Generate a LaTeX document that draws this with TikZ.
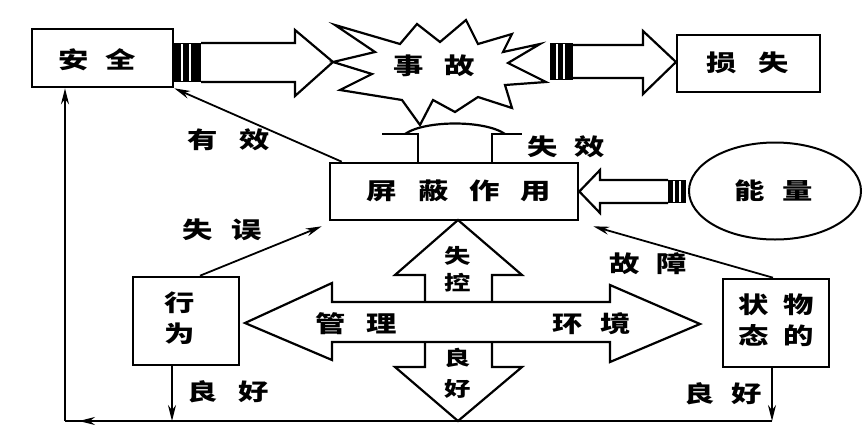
\documentclass[tikz,border=0pt]{standalone}
\usepackage{fontspec}
\newfontfamily\cjk{Noto Sans CJK SC}[FakeStretch=1.32]
\usetikzlibrary{arrows.meta,shapes.geometric,calc}
\newcommand\gapx[1]{\hspace{#1pt}}
\tikzset{
  zh/.style={font=\cjk\bfseries\fontsize{23}{31}\selectfont, inner sep=0pt, align=center},
  zhs/.style={font=\cjk\bfseries\fontsize{20}{31}\selectfont, inner sep=0pt, align=center},
  boxx/.style={draw, line width=2.6pt, rectangle, inner sep=0pt},
  shapeline/.style={line width=2.2pt, line join=miter},
  conn/.style={line width=1.8pt, -{Stealth[length=16pt,width=8pt]}},
  plain/.style={line width=2pt},
  bar/.style={fill=black},
}
\begin{document}
\begin{tikzpicture}[x=1pt,y=-1pt]
\useasboundingbox (0,0) rectangle (863,429);
\fill[white] (0,0) rectangle (863,429);

% boxes
\node[boxx, minimum width=141pt, minimum height=58pt] (safe) at (102.5,58) {};
\node[zh] (safet) at (97,60) {安\gapx{16}全};
\node[boxx, minimum width=143pt, minimum height=57pt] (loss) at (748.5,63.5) {};
\node[zh] (losst) at (748,63) {损\gapx{22}失};
\node[boxx, minimum width=248pt, minimum height=57pt] (shield) at (454,191.5) {};
\node[zh] (shieldt) at (459,191) {屏\gapx{21}蔽\gapx{21}作\gapx{21}用};
\node[draw, ellipse, line width=2pt, minimum width=172pt, minimum height=97pt, inner sep=0pt] (energy) at (775,191) {};
\node[zh] (energyt) at (774,191) {能\gapx{18}量};
\node[boxx, minimum width=106pt, minimum height=88pt] (xw) at (186,321) {};
\node[zh] (xwt) at (180,318) {行\\为};
\node[boxx, minimum width=106pt, minimum height=88pt] (wz) at (776,323) {};
\node[zh] (wzt) at (776,320) {状\gapx{15}物\\态\gapx{15}的};

% accident star
\draw[shapeline, fill=white] (335,25) -- (400,44) -- (417,24) -- (440,42) -- (466,20) -- (478,44)
  -- (512,34) -- (503,52) -- (540,44) -- (508,63) -- (546,82) -- (505,85) -- (512,108)
  -- (478,97) -- (455,112) -- (433,100) -- (420,125) -- (402,100) -- (340,90)
  -- (372,74) -- (333,62) -- (375,52) -- cycle;
\node[zh] (acc) at (434,66) {事\gapx{21}故};

% block arrow safe -> accident
\fill[bar] (safe.east |- 0,43) rectangle (201,82);
\draw[white, line width=1.3pt] (182,44) -- (182,81) (190,44) -- (190,81);
\draw[shapeline] (201,43) -- (295,43) -- (295,30) -- (333,62) -- (295,96) -- (295,82) -- (201,82);

% block arrow accident -> loss
\fill[bar] (550,43) rectangle (573,80);
\draw[white, line width=1.3pt] (557,44) -- (557,79) (564,44) -- (564,79);
\draw[shapeline] (573,45) -- (643,45) -- (643,31) -- (676,62) -- (643,94) -- (643,78) -- (573,78);

% block arrow energy -> shield
\fill[bar] (668,180) rectangle (686,203);
\draw[white, line width=1.2pt] (674,181) -- (674,202) (680,181) -- (680,202);
\draw[shapeline] (668,180) -- (600,180) -- (600,170) -- (shield.east) -- (600,213) -- (600,203) -- (668,203);

% failure arrow (shield -> accident)
\draw[shapeline] (418,163) -- (418,134) -- (382,134);
\draw[shapeline] (492,163) -- (492,134) -- (522,134);
\draw[shapeline] (405,134) .. controls (425,120) and (485,120) .. (505,134);
\node[zh] (sx) at (566,147) {失\gapx{17}效};

% connectors
\draw[conn] ($(shield.north west)+(13,0)$) -- (safe.south east);
\node[zh] (yx) at (229,140) {有\gapx{22}效};
\draw[conn] ($(xw.north)+(14,0)$) -- ($(shield.south west)+(-7,5)$);
\node[zh] (sw) at (222,230) {失\gapx{19}误};
\draw[conn] ($(wz.north)+(-3,0)$) -- ($(shield.south east)+(14,5)$);
\node[zh] (gz) at (648,264) {故\gapx{16}障};

% cross of arrows
\draw[shapeline] (245,323) -- (332,283) -- (332,302) -- (610,302) -- (610,285) -- (700,324)
  -- (610,362) -- (610,342) -- (332,342) -- (332,360) -- cycle;
\draw[shapeline] (425,302) -- (425,275) -- (395,275) -- (458,220) -- (522,275) -- (492,275) -- (492,302);
\draw[shapeline] (425,342) -- (425,367) -- (395,367) -- (458,421) -- (522,367) -- (492,367) -- (492,342);
\node[zh] (gl) at (356,324) {管\gapx{21}理};
\node[zh] (hj) at (592,324) {环\gapx{18}境};
\node[zhs, font=\cjk\bfseries\fontsize{20}{27}\selectfont] (sk) at (458,269) {失\\控};
\node[zhs] (lh) at (458,373) {良\\好};

% feedback loop
\coordinate (bl) at (65,421);
\coordinate (br) at (772,421);
\coordinate (xwd) at ($(xw.south)+(-14,0)$);
\coordinate (wzd) at ($(wz.south)+(-4,0)$);
\draw[plain] (br) -- (bl);
\draw[conn] (wzd) -- (wzd |- bl);
\draw[conn] (xwd) -- (xwd |- bl);
\draw[conn] (xwd |- bl) -- ($(bl)+(14,0)$);
\draw[conn] (bl) -- (bl |- safe.south);
\node[zh] (lh1) at (228,392) {良\gapx{21}好};
\node[zh] (lh2) at (723,394) {良\gapx{16}好};
\end{tikzpicture}
\end{document}
